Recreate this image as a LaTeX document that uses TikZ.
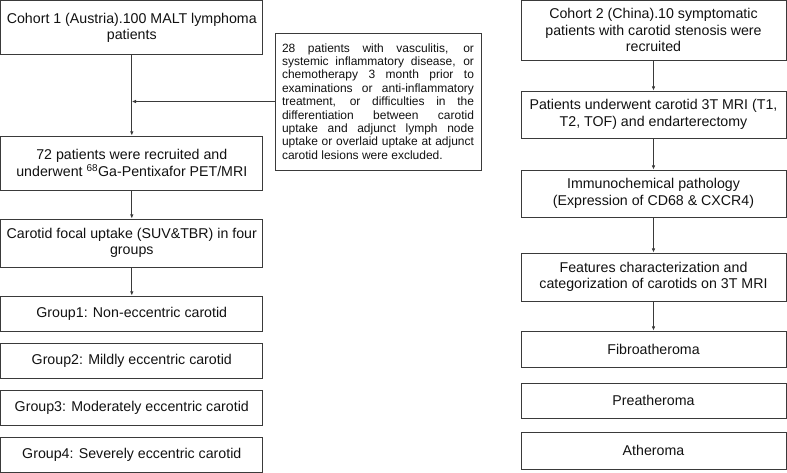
\documentclass[tikz,border=0pt]{standalone}
\usepackage{fontspec}
\setmainfont{Liberation Sans}
\usepackage{xcolor}
\usepackage{tikz}
\usetikzlibrary{arrows.meta}
\definecolor{edge}{HTML}{3A3A3A}
\definecolor{ink}{HTML}{111111}
\tikzset{
  box/.style={draw=edge, line width=0.9pt, text=ink, align=center, inner sep=0pt, font=\fontsize{14.2}{16.5}\selectfont},
  exbox/.style={draw=edge, line width=0.9pt, text=ink, align=justify, text width=192pt, inner xsep=7pt, inner ysep=0pt, minimum height=137pt, font=\fontsize{12}{13.4}\selectfont},
  arr/.style={draw=edge, line width=0.9pt, -{Latex[length=4.2pt,width=3.6pt]}}
}

\begin{document}
\begin{tikzpicture}[x=1pt, y=-1pt]
  \useasboundingbox (0,0) rectangle (787,473);
  \def\lx{131.8}
  \def\rx{653.5}
  \def\lw{262pt}
  \def\rw{265pt}

  % cohort 1
  \node[box, minimum width=\lw, minimum height=54pt] (L1) at (\lx,27.8) {Cohort 1 (Austria).100 MALT lymphoma\\patients};
  \node[box, minimum width=\lw, minimum height=54pt] (L2) at (\lx,163) {72 patients were recruited and\\underwent \textsuperscript{68}Ga-Pentixafor PET/MRI};
  \node[box, minimum width=\lw, minimum height=48pt] (L3) at (\lx,243) {Carotid focal uptake (SUV\&TBR) in four\\groups};
  \node[box, minimum width=\lw, minimum height=35pt] (G1) at (\lx,313.5) {Group1: Non-eccentric carotid};
  \node[box, minimum width=\lw, minimum height=35pt] (G2) at (\lx,360.5) {Group2: Mildly eccentric carotid};
  \node[box, minimum width=\lw, minimum height=35pt] (G3) at (\lx,407.5) {Group3: Moderately eccentric carotid};
  \node[box, minimum width=\lw, minimum height=35pt] (G4) at (\lx,454.5) {Group4: Severely eccentric carotid};

  % excluded
  \node[exbox] (EX) at (378,101.5) {\hyphenpenalty=10000 28 patients with vasculitis, or\linebreak systemic inflammatory disease, or\linebreak chemotherapy 3 month prior to\linebreak examinations or anti-inflammatory\linebreak treatment, or difficulties in the\linebreak differentiation between carotid\linebreak uptake and adjunct lymph node\linebreak uptake or overlaid uptake at adjunct\linebreak carotid lesions were excluded.};

  \draw[arr] (L1) -- (L2);
  \draw[arr] (L2) -- (L3);
  \draw[arr] (L3) -- (G1);
  \draw[arr] (EX.west) -- (EX.west -| L1.center);

  % cohort 2
  \node[box, minimum width=\rw, minimum height=60pt] (R1) at (\rx,30) {Cohort 2 (China).10 symptomatic\\patients with carotid stenosis were\\recruited};
  \node[box, minimum width=\rw, minimum height=47pt] (R2) at (\rx,114.5) {Patients underwent carotid 3T MRI (T1,\\T2, TOF) and endarterectomy};
  \node[box, minimum width=\rw, minimum height=47pt] (R3) at (\rx,193.5) {Immunochemical pathology\\(Expression of CD68 \& CXCR4)};
  \node[box, minimum width=\rw, minimum height=48pt] (R4) at (\rx,277) {Features characterization and\\categorization of carotids on 3T MRI};
  \node[box, minimum width=\rw, minimum height=36pt] (R5) at (\rx,349) {Fibroatheroma};
  \node[box, minimum width=\rw, minimum height=35pt] (R6) at (\rx,400.5) {Preatheroma};
  \node[box, minimum width=\rw, minimum height=37pt] (R7) at (\rx,450.5) {Atheroma};

  \draw[arr] (R1) -- (R2);
  \draw[arr] (R2) -- (R3);
  \draw[arr] (R3) -- (R4);
  \draw[arr] (R4) -- (R5);
\end{tikzpicture}
\end{document}
